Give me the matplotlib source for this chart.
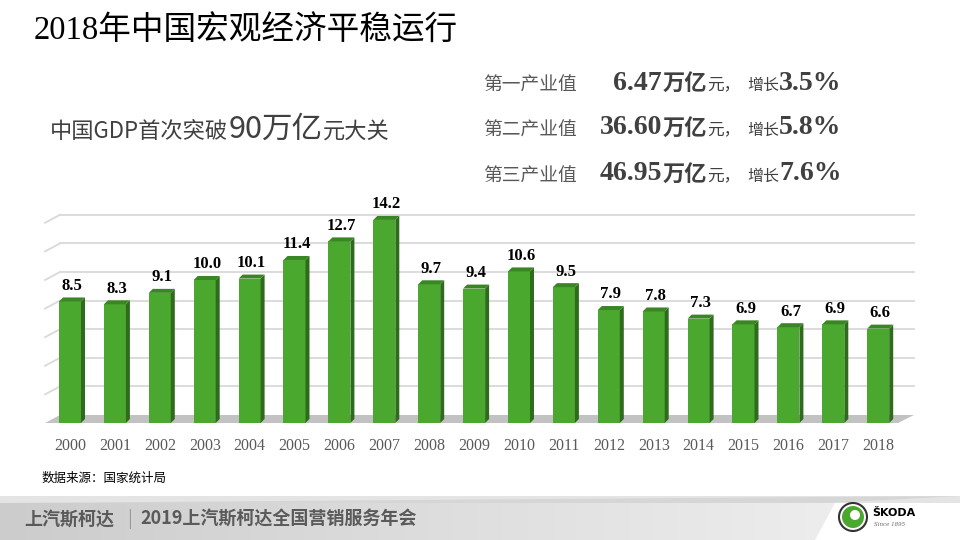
import numpy as np
import matplotlib
matplotlib.use('Agg')
import matplotlib.pyplot as plt
from matplotlib.patches import Polygon, Circle

# data
years = ['2000', '2001', '2002', '2003', '2004', '2005', '2006', '2007', '2008', '2009',
         '2010', '2011', '2012', '2013', '2014', '2015', '2016', '2017', '2018']
gdp_growth = [8.5, 8.3, 9.1, 10.0, 10.1, 11.4, 12.7, 14.2, 9.7, 9.4,
              10.6, 9.5, 7.9, 7.8, 7.3, 6.9, 6.7, 6.9, 6.6]
grid_values = [2, 4, 6, 8, 10, 12, 14]

industry_names = ['第一产业值', '第二产业值', '第三产业值']
industry_output = ['6.47', '36.60', '46.95']
industry_growth = ['3.5%', '5.8%', '7.6%']

CJK = 'Noto Sans CJK SC'
MIX = ['Liberation Serif', 'Noto Sans CJK SC']

fig = plt.figure(figsize=(9.6, 5.4), dpi=100)
fig.patch.set_facecolor('white')

# helper axes over the whole figure, pixel coords
deco = fig.add_axes([0, 0, 1, 1])
deco.set_xlim(0, 960)
deco.set_ylim(540, 0)
deco.axis('off')
renderer = fig.canvas.get_renderer()


def run_text(x, y, pieces):
    # place text pieces one after another, left to right
    for s, kw in pieces:
        t = deco.text(x, y + kw.pop('dy', 0), s, ha='left', va='center', **kw)
        bb = t.get_window_extent(renderer=renderer)
        x += bb.width + kw.get('gap', 0)
    return x


# ---- chart axes (pseudo 3d bars)
L, R, B, T = 40, 920, 430, 195
ax = fig.add_axes([L / 960, 1 - B / 540, (R - L) / 960, (B - T) / 540])
px_x = 44.9   # pixels per category
px_y = 14.3   # pixels per unit
ax.set_xlim((L - 70) / px_x, (R - 70) / px_x)
ax.set_ylim((423 - B) / px_y, (423 - T) / px_y)
for s in ax.spines.values():
    s.set_visible(False)
ax.set_yticks([])

wall_dx, wall_dy = 15 / px_x, 8 / px_y
x_front_l = (45 - 70) / px_x
x_front_r = (898 - 70) / px_x
x_back_r = (914 - 70) / px_x

# back wall gridlines + left side wall lines
for v in grid_values:
    ax.plot([x_front_l + wall_dx, x_back_r], [v + wall_dy, v + wall_dy],
            color='#D9D9D9', lw=1.3, zorder=1)
    ax.plot([x_front_l, x_front_l + wall_dx], [v, v + wall_dy],
            color='#D9D9D9', lw=1.3, zorder=1)

# floor
floor = Polygon([(x_front_l, 0), (x_front_r, 0), (x_back_r, wall_dy),
                 (x_front_l + wall_dx, wall_dy)], closed=True,
                facecolor='#C2C2C2', edgecolor='none', zorder=2)
ax.add_patch(floor)

w = 0.49
bdx, bdy = 4 / px_x, 4 / px_y
xs = np.arange(len(years))
ax.bar(xs, gdp_growth, width=w, color='#4BA82E', edgecolor='none', zorder=4)
for x, v in zip(xs, gdp_growth):
    side = Polygon([(x + w / 2, 0), (x + w / 2 + bdx, bdy), (x + w / 2 + bdx, v + bdy),
                    (x + w / 2, v)], closed=True, facecolor='#2E6B1C', edgecolor='none', zorder=4)
    top = Polygon([(x - w / 2, v), (x + w / 2, v), (x + w / 2 + bdx, v + bdy),
                   (x - w / 2 + bdx, v + bdy)], closed=True, facecolor='#3A8624',
                  edgecolor='none', zorder=4)
    ax.add_patch(side)
    ax.add_patch(top)
    ax.text(x + bdx / 2, v + bdy + 0.25, f'{v:.1f}', ha='center', va='bottom',
            fontsize=12, fontweight='bold', family='Liberation Serif', color='black', zorder=5)

ax.set_xticks(xs)
ax.set_xticklabels(years, family='Liberation Serif', fontsize=11.5, color='#595959')
ax.tick_params(axis='x', length=0, pad=6)

# ---- texts
deco.text(34, 31, '2018年中国宏观经济平稳运行', fontsize=23.5, family=MIX,
          ha='left', va='center', color='black')

dark = '#404040'
run_text(50, 130, [
    ('中国GDP首次突破', dict(fontsize=16, family=CJK, color=dark, dy=1)),
    ('90', dict(fontsize=22, family=CJK, color=dark, dy=-1)),
    ('万亿', dict(fontsize=22, family=CJK, color=dark, dy=-1)),
    ('元大关', dict(fontsize=16, family=CJK, color=dark, dy=1)),
])

row_y = [83, 128, 174]
for name, out, gr, y in zip(industry_names, industry_output, industry_growth, row_y):
    deco.text(483, y + 2, name, fontsize=13.5, family=CJK, ha='left', va='center', color='#595959')
    deco.text(662, y, out, fontsize=20, fontweight='bold', family='Liberation Serif',
              ha='right', va='center', color=dark)
    xe = run_text(663, y, [
        ('万亿', dict(fontsize=16, fontweight='bold', family=CJK, color=dark)),
        ('元，', dict(fontsize=12, family=CJK, color=dark, dy=2)),
    ])
    run_text(747, y, [
        ('增长', dict(fontsize=11.5, family=CJK, color=dark, dy=2)),
        (gr, dict(fontsize=20, fontweight='bold', family='Liberation Serif', color=dark)),
    ])

deco.text(42, 478, '数据来源：国家统计局', fontsize=9, family=CJK, ha='left', va='center', color='black')

# ---- footer band
grad = np.linspace(0.80, 0.93, 256)[None, :]
deco.imshow(np.dstack([grad, grad, grad]), extent=(0, 835, 540, 503), aspect='auto', zorder=0)
deco.add_patch(Polygon([(835, 503), (835, 540), (815, 540)], closed=True,
                       facecolor='white', edgecolor='none', zorder=0.5))
deco.add_patch(Polygon([(0, 496), (960, 496), (960, 503), (0, 503)], closed=True,
                       facecolor='#E4E4E4', edgecolor='none', zorder=0.4))
deco.add_patch(Polygon([(0, 503), (830, 503), (960, 496)], closed=True,
                       facecolor='#D6D6D6', edgecolor='none', zorder=0.45))
deco.set_xlim(0, 960)
deco.set_ylim(540, 0)

deco.text(24, 519, '上汽斯柯达', fontsize=13, fontweight='bold', family=CJK,
          ha='left', va='center', color='#5A5A5A')
deco.text(127, 519, '|', fontsize=13, family=CJK, ha='left', va='center', color='#9A9A9A')
deco.text(140, 519, '2019上汽斯柯达全国营销服务年会', fontsize=13, fontweight='bold', family=CJK,
          ha='left', va='center', color='#5A5A5A')

# logo
deco.add_patch(Circle((853, 517), 14, facecolor='white', edgecolor='#333333', lw=1.5, zorder=3))
deco.add_patch(Circle((853, 517), 11, facecolor='#4BA82E', edgecolor='none', zorder=3))
deco.add_patch(Circle((855, 515), 5, facecolor='white', edgecolor='none', zorder=3))
deco.text(872, 513, 'ŠKODA', fontsize=8, fontweight='bold', family='DejaVu Sans',
          ha='left', va='center', color='black')
deco.text(874, 524, 'Since 1895', fontsize=4, style='italic', family='DejaVu Serif',
          ha='left', va='center', color='#666666')

fig.savefig('out.png', dpi=100)
